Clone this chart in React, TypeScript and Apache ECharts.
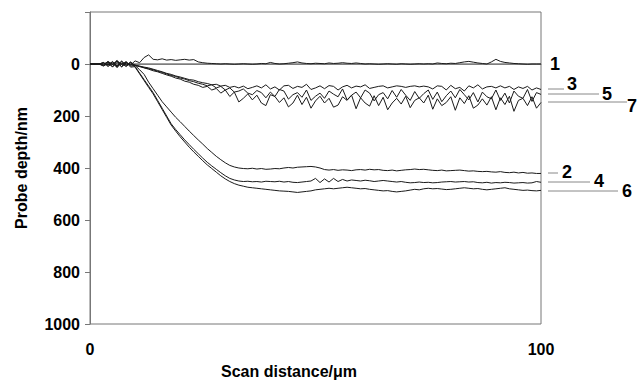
import React, { useEffect, useRef } from "react";
import * as echarts from "echarts";

const distance = [
  0, 1, 2, 3, 4, 5, 6, 7, 8, 9, 10, 11, 12, 13, 14, 15, 16, 17, 18, 19, 20,
  21, 22, 23, 24, 25, 26, 27, 28, 29, 30, 31, 32, 33, 34, 35, 36, 37, 38, 39, 40,
  41, 42, 43, 44, 45, 46, 47, 48, 49, 50, 51, 52, 53, 54, 55, 56, 57, 58, 59, 60,
  61, 62, 63, 64, 65, 66, 67, 68, 69, 70, 71, 72, 73, 74, 75, 76, 77, 78, 79, 80,
  81, 82, 83, 84, 85, 86, 87, 88, 89, 90, 91, 92, 93, 94, 95, 96, 97, 98, 99, 100,
];

const probe1 = [
  0, 0, 0, 0, -8, 2, -10, 0, -6, 4, -12, -5, -25, -35, -18, -16, -20, -15, -17, -14, -16,
  -18, -15, -17, -8, -5, -3, -2, -1, 0, -1, 0, 1, 0, -1, 0, 1, 0, -2, -1, -6,
  -2, 0, -1, -3, -5, -8, -4, -2, -1, -3, -2, -1, -4, -2, -3, -5, -3, -2, -4, -2,
  0, -1, 0, 1, 0, -1, 0, 1, -1, 0, 1, 0, -1, 0, -1, 0, -4, -2, -1, -3,
  -2, -5, -8, -10, -7, -4, -2, 0, -8, -18, -10, -6, -4, -2, -1, 0, 1, 0, 0, 0,
];

const probe2 = [
  0, 0, 0, -5, 6, -10, 8, -12, 5, -6, 6, 22, 40, 70, 95, 120, 145, 165, 185, 205, 222,
  240, 258, 275, 292, 308, 325, 340, 355, 368, 380, 390, 396, 400, 402, 403, 401, 404, 402, 405, 404,
  402, 403, 400, 398, 400, 397, 396, 395, 394, 396, 400, 406, 408, 406, 409, 407, 408, 410, 407, 406,
  408, 405, 407, 406, 409, 410, 408, 411, 409, 407, 406, 404, 406, 405, 407, 409, 410, 408, 411, 410,
  409, 408, 410, 412, 411, 413, 414, 413, 415, 416, 414, 417, 418, 416, 419, 417, 420, 419, 421, 421,
];

const probe3 = [
  0, 0, 0, 6, -8, 12, -6, 10, -10, 8, 5, 8, 12, 15, 20, 25, 30, 36, 40, 46, 50,
  55, 60, 62, 68, 72, 75, 80, 78, 85, 82, 90, 86, 92, 85, 95, 90, 84, 92, 80, 96,
  88, 100, 84, 82, 94, 86, 90, 78, 98, 92, 84, 95, 83, 86, 100, 88, 82, 92, 85, 88,
  80, 94, 90, 86, 84, 92, 88, 84, 86, 90, 86, 84, 88, 85, 88, 96, 84, 86, 100, 82,
  95, 90, 104, 84, 92, 80, 96, 88, 86, 92, 84, 92, 86, 98, 88, 94, 86, 100, 92, 98,
];

const probe4 = [
  0, 0, 0, 8, -2, 10, -12, 2, -8, 12, 10, 35, 60, 85, 110, 140, 170, 200, 230, 252, 272,
  292, 310, 328, 345, 362, 378, 392, 405, 418, 430, 440, 446, 450, 452, 451, 453, 452, 454, 451, 452,
  453, 451, 454, 452, 455, 456, 454, 452, 450, 440, 456, 442, 454, 440, 452, 444, 450, 446, 448, 450,
  447, 449, 452, 450, 448, 450, 452, 454, 452, 455, 457, 456, 454, 456, 455, 457, 456, 454, 453, 452,
  454, 453, 452, 454, 453, 456, 457, 455, 458, 456, 457, 455, 456, 458, 457, 456, 458, 457, 452, 455,
];

const probe5 = [
  0, 0, 0, -6, 10, -4, 14, -10, 6, -8, 6, 10, 14, 18, 22, 28, 32, 38, 44, 48, 54,
  58, 64, 68, 74, 78, 84, 80, 92, 86, 100, 92, 108, 104, 96, 112, 118, 102, 110, 130, 108,
  125, 98, 104, 135, 118, 110, 128, 100, 140, 124, 112, 132, 104, 116, 126, 96, 138, 120, 108, 130,
  100, 112, 142, 118, 110, 134, 102, 128, 98, 120, 140, 106, 132, 114, 100, 136, 108, 145, 122, 104,
  130, 98, 118, 138, 110, 146, 108, 126, 134, 100, 140, 112, 150, 104, 124, 132, 98, 144, 110, 117,
];

const probe6 = [
  0, 0, 0, -4, 3, -8, 12, -3, 10, -4, 12, 38, 64, 90, 115, 145, 175, 205, 235, 258, 280,
  300, 320, 338, 355, 372, 388, 402, 416, 430, 442, 452, 460, 466, 470, 474, 476, 478, 480, 482, 484,
  486, 488, 489, 490, 492, 494, 492, 490, 488, 484, 482, 480, 478, 480, 478, 476, 474, 476, 478, 480,
  479, 482, 484, 486, 488, 487, 490, 492, 490, 488, 485, 482, 484, 480, 478, 480, 479, 481, 483, 482,
  480, 478, 476, 478, 480, 479, 482, 484, 482, 480, 478, 476, 480, 482, 484, 486, 485, 487, 488, 486,
];

const probe7 = [
  0, 0, 0, 4, -10, 2, -14, 12, -4, 3, 4, 9, 15, 20, 26, 30, 36, 42, 47, 54, 58,
  66, 70, 78, 82, 90, 86, 100, 94, 112, 100, 125, 108, 146, 132, 115, 138, 120, 150, 160, 118,
  125, 148, 130, 165, 150, 120, 156, 128, 170, 142, 124, 150, 132, 166, 158, 126, 140, 120, 172, 130,
  150, 162, 122, 160, 128, 176, 150, 132, 154, 124, 168, 140, 130, 150, 120, 174, 134, 160, 148, 126,
  178, 130, 152, 122, 170, 158, 134, 158, 126, 176, 130, 156, 124, 182, 140, 132, 160, 126, 170, 148,
];

const yTicks = [-200, 0, 200, 400, 600, 800, 1000];
const xTicks = [0, 100];

const curveLabels = ["1", "3", "5", "7", "2", "4", "6"];

const FONT = "'Liberation Sans', Arial, sans-serif";

export default function App() {
  const ref = useRef<HTMLDivElement>(null);

  useEffect(() => {
    if (!ref.current) return;
    const chart = echarts.init(ref.current, undefined, { renderer: "svg" });
    const all = [probe1, probe2, probe3, probe4, probe5, probe6, probe7];
    const series: any[] = all.map((vals, k) => ({
      type: "line",
      name: String(k + 1),
      data: distance.map((x, i) => [x, vals[i]]),
      symbol: "none",
      lineStyle: { color: "#1a1a1a", width: 1 },
      z: 3,
    }));
    series[0].markLine = {
      silent: true,
      symbol: "none",
      label: { show: false },
      lineStyle: { color: "#808080", width: 1.5, type: "solid" },
      data: [{ yAxis: 0 }],
      z: 2,
    };

    const labelPos: Record<string, [number, number]> = {
      "1": [550, 64],
      "3": [567, 84],
      "5": [602, 94],
      "7": [627, 106],
      "2": [562, 172],
      "4": [594, 181],
      "6": [622, 191],
    };
    const leaders: Record<string, [number, number, number]> = {
      "3": [548, 564, 89],
      "5": [548, 599, 94],
      "7": [548, 627, 102],
      "2": [548, 558, 173],
      "4": [548, 590, 182],
      "6": [548, 618, 191],
    };
    const graphics: any[] = [];
    curveLabels.forEach((c) => {
      const l = leaders[c];
      if (l) {
        graphics.push({
          type: "line",
          shape: { x1: l[0], y1: l[2], x2: l[1], y2: l[2] },
          style: { stroke: "#888", lineWidth: 1 },
        });
      }
      const p = labelPos[c];
      graphics.push({
        type: "text",
        x: p[0],
        y: p[1],
        style: {
          text: c,
          font: `bold 18px ${FONT}`,
          fill: "#000",
          align: "left",
          verticalAlign: "middle",
          textAlign: "left",
          textVerticalAlign: "middle",
        },
      });
    });
    graphics.push({
      type: "text",
      x: 289,
      y: 371,
      style: {
        text: "Scan distance/\u03bcm",
        font: `bold 16px ${FONT}`,
        fill: "#000",
        align: "center",
        verticalAlign: "middle",
        textAlign: "center",
        textVerticalAlign: "middle",
      },
    });

    chart.setOption({
      animation: false,
      backgroundColor: "#fff",
      textStyle: { fontFamily: FONT },
      grid: {
        left: 90,
        right: 99,
        top: 12,
        bottom: 57,
        show: true,
        borderColor: "#777",
        borderWidth: 1,
      },
      xAxis: {
        type: "value",
        min: xTicks[0],
        max: xTicks[xTicks.length - 1],
        interval: 100,
        axisLine: { show: true, lineStyle: { color: "#777" } },
        axisTick: { show: false },
        splitLine: { show: false },
        axisLabel: {
          color: "#000",
          fontWeight: "bold",
          fontSize: 16,
          margin: 17,
          fontFamily: FONT,
        },
      },
      yAxis: {
        type: "value",
        inverse: true,
        min: yTicks[0],
        max: yTicks[yTicks.length - 1],
        interval: 200,
        name: "Probe depth/nm",
        nameLocation: "middle",
        nameGap: 61,
        nameTextStyle: { color: "#000", fontWeight: "bold", fontSize: 16, fontFamily: FONT },
        axisLine: { show: true, lineStyle: { color: "#777" } },
        axisTick: { show: true, inside: false, length: 5, lineStyle: { color: "#777" } },
        splitLine: { show: false },
        axisLabel: {
          color: "#000",
          fontWeight: "bold",
          fontSize: 16,
          margin: 10,
          fontFamily: FONT,
          formatter: (v: number) => (v < 0 ? "" : String(v)),
        },
      },
      graphic: graphics,
      series,
    });
    return () => chart.dispose();
  }, []);

  return <div ref={ref} style={{ width: 640, height: 381, position: "absolute", left: 0, top: 0 }} />;
}
